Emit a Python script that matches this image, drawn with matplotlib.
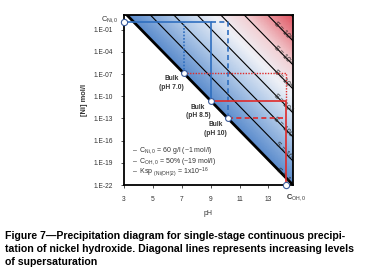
import numpy as np
import matplotlib
matplotlib.use("Agg")
import matplotlib.pyplot as plt
from matplotlib.colors import LinearSegmentedColormap

# ---- data ----
ph_ticks = [3, 5, 7, 9, 11, 13]
ni_ticks = [1e-22, 1e-19, 1e-16, 1e-13, 1e-10, 1e-7, 1e-4, 1e-1]
ni_tick_labels = ["1.E-22", "1.E-19", "1.E-16", "1.E-13", "1.E-10", "1.E-07", "1.E-04", "1.E-01"]
ph_min, ph_max = 3.0, 14.7
ni_min, ni_max = 1e-22, 1e1

# solubility line: log10[Ni] = sol_intercept - 2 pH
sol_intercept = 7.4
# supersaturation lines, shifted up by these many decades
s_offsets = [3.25, 6.5, 9.75, 13.0, 16.25, 19.5, 22.75]
# labels sit on the solubility line and the first six shifted lines
label_offsets = [0, 3.25, 6.5, 9.75, 13.0, 16.25, 19.5]
s_labels = ["S = 1", "S = 10", "S = 100", "S = 10$^3$", "S = 10$^4$", "S = 10$^5$", "S = 10$^6$"]

c_ni0 = 1.0        # mol/l
c_oh0_ph = 14.2
bulk_ph = [7.15, 9.0, 10.2]
bulk_ni = [1.6e-7, 2.5e-11, 1e-13]
bulk_labels = ["Bulk\n(pH 7.0)", "Bulk\n(pH 8.5)", "Bulk\n(pH 10)"]

notes = ["\u2013  C$_{Ni,0}$ = 60 g/l (~1 mol/l)",
         "\u2013  C$_{OH,0}$ = 50% (~19 mol/l)",
         "\u2013  Ksp $_{(Ni(OH)2)}$ = 1x10$^{-16}$"]

caption = ("Figure 7\u2014Precipitation diagram for single-stage continuous precipi-\n"
           "tation of nickel hydroxide. Diagonal lines represents increasing levels\n"
           "of supersaturation")

plt.rcParams['font.family'] = ['Liberation Sans', 'DejaVu Sans']
plt.rcParams['mathtext.fontset'] = 'custom'
plt.rcParams['mathtext.rm'] = 'Liberation Sans'
plt.rcParams['mathtext.it'] = 'Liberation Sans'

blue = "#2f6fc0"
red = "#e02a2a"
txt = "#333333"

fig = plt.figure(figsize=(3.68, 2.74), dpi=100)
ax = fig.add_axes([124 / 368, 1 - 185 / 274, 169 / 368, 170 / 274])
ax.set_yscale('log')
ax.set_xlim(ph_min, ph_max)
ax.set_ylim(ni_min, ni_max)

# background gradient above the solubility line
gx = np.linspace(ph_min, ph_max, 400)
gl = np.linspace(np.log10(ni_min), np.log10(ni_max), 400)
GX, GL = np.meshgrid(gx, gl)
D = GL - (sol_intercept - 2 * GX)
D = np.ma.masked_less(D, 0)
cmap = LinearSegmentedColormap.from_list(
    "ss", [(0.0, "#5a8bcc"), (0.3, "#b2cae8"), (0.52, "#eef0f6"),
           (0.7, "#f2d0d4"), (1.0, "#e0525f")])
ax.pcolormesh(GX, 10 ** GL, D, cmap=cmap, vmin=0, vmax=23, shading='auto',
              rasterized=True, zorder=0)

# solubility line and supersaturation lines
lx = np.array([ph_min, ph_max])
ax.plot(lx, 10 ** (sol_intercept - 2 * lx), color='black', lw=2.0, zorder=2)
for off in s_offsets:
    ax.plot(lx, 10 ** (sol_intercept + off - 2 * lx), color='black', lw=0.8, zorder=2)

p1 = ax.transData.transform((13.0, 1.0))
p2 = ax.transData.transform((14.0, 1e-2))
ang = np.degrees(np.arctan2(p2[1] - p1[1], p2[0] - p1[0]))
for off, lab in zip(label_offsets, s_labels):
    xl = 14.0
    ax.text(xl, 10 ** (sol_intercept + off - 2 * xl), lab, fontsize=5.0, color='#222222',
            rotation=ang, ha='center', va='center', rotation_mode='anchor', zorder=3)

# blue paths
ax.plot([ph_min, bulk_ph[1], bulk_ph[1]], [c_ni0, c_ni0, bulk_ni[1]], color=blue, lw=1.2,
        zorder=4, solid_joinstyle='round')
ax.plot([bulk_ph[0], bulk_ph[0]], [bulk_ni[0], c_ni0], color=blue, lw=1.2, ls=(0, (1, 1)), zorder=4)
ax.plot([bulk_ph[1], bulk_ph[2], bulk_ph[2]], [c_ni0, c_ni0, bulk_ni[2]], color=blue, lw=1.2,
        ls=(0, (3, 2)), zorder=4)

# red paths
ax.plot([bulk_ph[1], c_oh0_ph, c_oh0_ph], [bulk_ni[1], bulk_ni[1], ni_min], color=red, lw=1.2,
        zorder=4, solid_joinstyle='round')
ax.plot([bulk_ph[0], c_oh0_ph, c_oh0_ph], [bulk_ni[0], bulk_ni[0], bulk_ni[1]], color=red, lw=1.0,
        ls=(0, (1, 1)), zorder=4)
ax.plot([bulk_ph[2], c_oh0_ph], [bulk_ni[2], bulk_ni[2]], color=red, lw=1.2, ls=(0, (3, 2)), zorder=4)

# points
ax.plot(bulk_ph, bulk_ni, 'o', ms=4.2, mfc='white', mec='#3a5a9a', mew=0.8, zorder=5)
ax.plot([ph_min], [c_ni0], 'o', ms=4.5, mfc='white', mec='#3a5a9a', mew=0.8, zorder=6, clip_on=False)
ax.plot([c_oh0_ph], [ni_min], 'o', ms=4.5, mfc='white', mec='#3a5a9a', mew=0.8, zorder=6, clip_on=False)

for x, y, lab in zip(bulk_ph, bulk_ni, bulk_labels):
    ax.annotate(lab, (x, y), xytext=(-9, -2), textcoords='offset points', ha='center', va='top',
                fontsize=4.8, fontweight='bold', color=txt, linespacing=1.3)

for i, n in enumerate(notes):
    ax.text(0.045, 0.2 - i * 0.062, n, transform=ax.transAxes, fontsize=5.0, color=txt, va='center')

# axes styling
ax.set_xticks(ph_ticks)
ax.set_xticklabels([str(t) for t in ph_ticks])
ax.set_yticks(ni_ticks)
ax.set_yticklabels(ni_tick_labels)
ax.yaxis.set_minor_locator(matplotlib.ticker.NullLocator())
ax.tick_params(labelsize=4.8, colors=txt, length=2, width=0.6, pad=6)
for s in ax.spines.values():
    s.set_linewidth(1.3)
ax.text(c_oh0_ph + 0.05, -0.075, "C$_{OH,0}$", transform=ax.get_xaxis_transform(),
        fontsize=5.4, fontweight='bold', color=txt, ha='left', va='center')
ax.text(-0.035, 10 ** 0.45, "C$_{Ni,0}$", transform=ax.get_yaxis_transform(),
        fontsize=5.4, color=txt, ha='right', va='center')
ax.set_xlabel("pH", fontsize=5, color=txt, labelpad=5)
ax.set_ylabel("[Ni] mol/l", fontsize=5.4, color=txt, fontweight='bold', labelpad=4)

fig.text(0.013, 1 - 231 / 274, caption, fontsize=7.55, fontweight='bold',
         family=['Liberation Sans Narrow', 'Liberation Sans'], va='top', linespacing=1.35)

fig.savefig("out.png", dpi=100, facecolor='white')
